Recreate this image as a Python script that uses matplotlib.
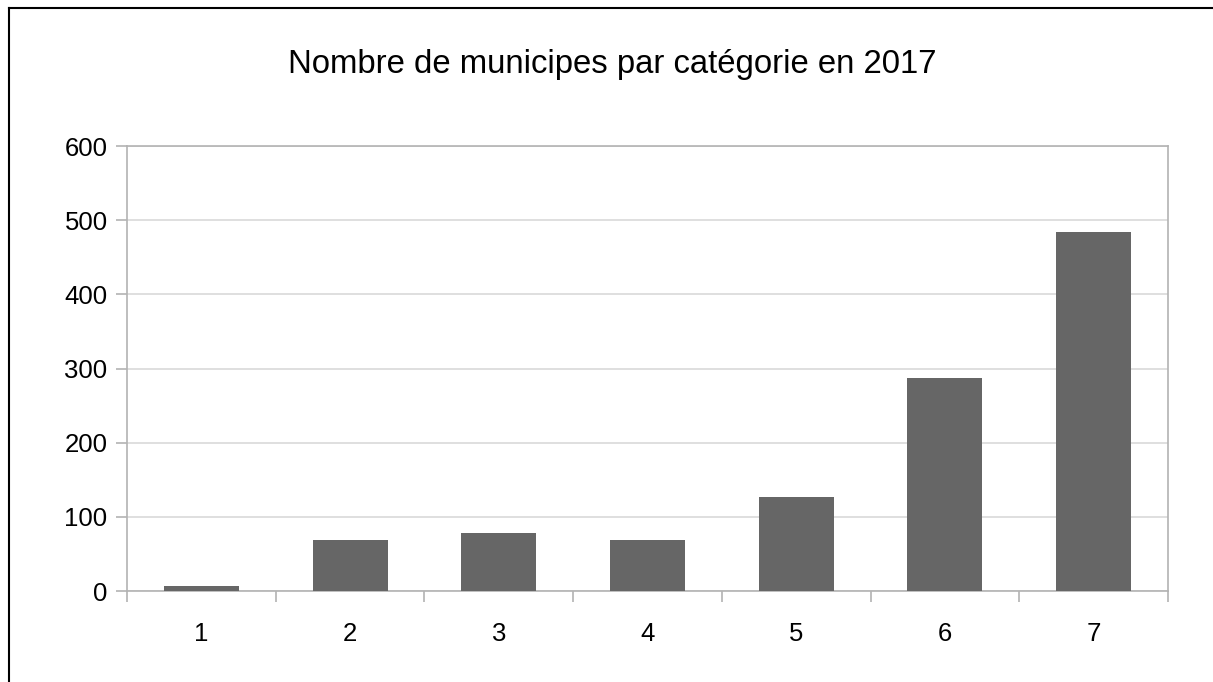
import matplotlib
matplotlib.use("Agg")
import matplotlib.pyplot as plt
from matplotlib.lines import Line2D
import numpy as np

plt.rcParams['font.family'] = ['Liberation Sans', 'DejaVu Sans']

# data
categories = ['1', '2', '3', '4', '5', '6', '7']
counts = [7, 69, 78, 69, 127, 287, 484]
y_ticks = [0, 100, 200, 300, 400, 500, 600]
title = "Nombre de municipes par catégorie en 2017"

fig = plt.figure(figsize=(12.13, 6.82), dpi=100, facecolor='white',
                 edgecolor='white', linewidth=0)
ax = fig.add_axes([0.1047, 0.1334, 0.8582, 0.6525])

x = np.arange(1, len(categories) + 1)
ax.bar(x, counts, width=0.505, color='#666666', zorder=3)

ax.set_xlim(0.5, len(categories) + 0.5)
ax.set_ylim(0, 600)
ax.set_yticks(y_ticks)
ax.set_xticks(x)
ax.set_xticklabels(categories)
ax.set_xticks(np.arange(0.5, len(categories) + 1), minor=True)

ax.grid(axis='y', color='#d9d9d9', linewidth=1.2, zorder=0)
for s in ax.spines.values():
    s.set_color('#b3b3b3')
    s.set_linewidth(1.2)

ax.tick_params(axis='y', length=8, width=1.2, color='#b3b3b3',
               labelsize=18.5, pad=6)
ax.tick_params(axis='x', which='major', length=0, labelsize=18.5, pad=22)
ax.tick_params(axis='x', which='minor', length=8, width=1.2, color='#b3b3b3')

fig.text(0.505, 0.905, title, ha='center', va='center', fontsize=23.7)

# outer frame: only top and left edges are inside the image
fx, fy = 8.5 / 1213, 1 - 7.5 / 682
fig.add_artist(Line2D([fx, 1.05], [fy, fy], transform=fig.transFigure,
                      color='black', linewidth=1.5))
fig.add_artist(Line2D([fx, fx], [-0.05, fy], transform=fig.transFigure,
                      color='black', linewidth=1.5))

fig.savefig('out.png', dpi=100, facecolor='white', edgecolor='none')
